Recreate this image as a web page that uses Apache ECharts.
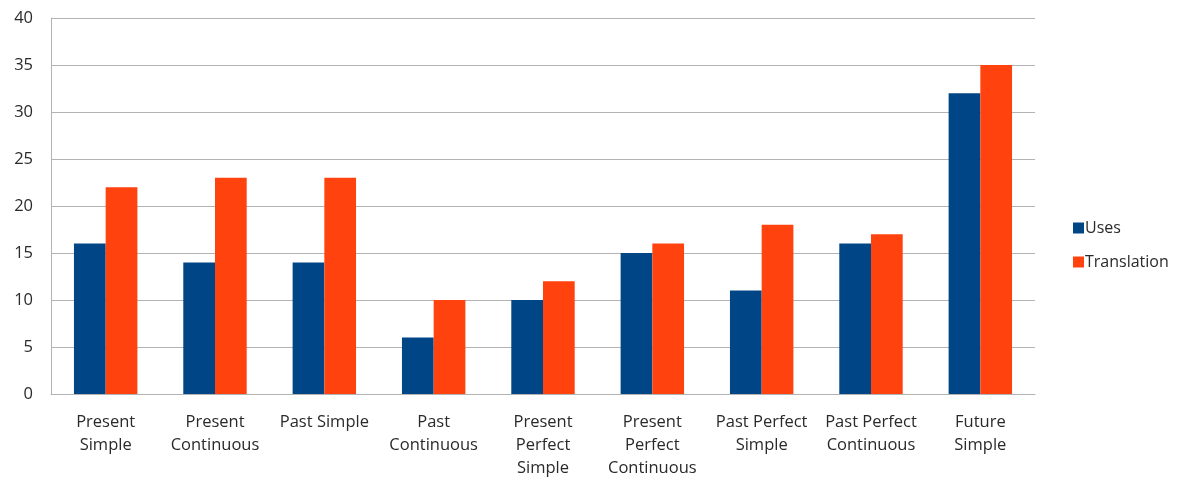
<!DOCTYPE html>
<html>
<head>
<meta charset="utf-8">
<script src="https://cdn.jsdelivr.net/npm/echarts@6/dist/echarts.min.js"></script>
<style>
  html, body { margin: 0; padding: 0; background: #fff; }
  #chart { width: 1177px; height: 477px; }
</style>
</head>
<body>
<div id="chart"></div>
<script>
// Tense categories (line breaks as shown under the axis)
const categories = [
  'Present\nSimple',
  'Present\nContinuous',
  'Past Simple',
  'Past\nContinuous',
  'Present\nPerfect\nSimple',
  'Present\nPerfect\nContinuous',
  'Past Perfect\nSimple',
  'Past Perfect\nContinuous',
  'Future\nSimple'
];
const usesValues = [16, 14, 14, 6, 10, 15, 11, 16, 32];
const translationValues = [22, 23, 23, 10, 12, 16, 18, 17, 35];
const seriesNames = ['Uses', 'Translation'];

const font = 'Open Sans, Lato, sans-serif';
const textColor = '#2a2a2a';
const chart = echarts.init(document.getElementById('chart'), null, { renderer: 'canvas' });

chart.setOption({
  animation: false,
  backgroundColor: '#ffffff',
  textStyle: { fontFamily: font },
  grid: {
    left: 51, right: 142, top: 18, bottom: 83,
    containLabel: false,
    outerBoundsMode: 'none'
  },
  legend: {
    orient: 'vertical',
    left: 1068,
    top: 215,
    itemWidth: 11,
    itemHeight: 11,
    itemGap: 18,
    icon: 'rect',
    textStyle: { fontFamily: font, fontSize: 16, color: textColor, padding: [0, 0, 0, -4] },
    data: seriesNames
  },
  xAxis: {
    type: 'category',
    data: categories,
    axisLine: { lineStyle: { color: '#b3b3b3', width: 1 } },
    axisTick: { show: false },
    axisLabel: {
      interval: 0,
      color: textColor,
      fontFamily: font,
      fontSize: 16.5,
      lineHeight: 23,
      margin: 17
    }
  },
  yAxis: {
    type: 'value',
    min: 0,
    max: 40,
    interval: 5,
    axisLine: { show: true, lineStyle: { color: '#b3b3b3', width: 1 } },
    axisTick: { show: false },
    splitLine: { lineStyle: { color: '#b3b3b3', width: 1 } },
    axisLabel: { color: textColor, fontFamily: font, fontSize: 16.5, margin: 18 }
  },
  series: [
    {
      name: seriesNames[0],
      type: 'bar',
      data: usesValues,
      itemStyle: { color: '#004586' },
      barGap: '0%',
      barCategoryGap: '42%'
    },
    {
      name: seriesNames[1],
      type: 'bar',
      data: translationValues,
      itemStyle: { color: '#ff420e' },
      barGap: '0%',
      barCategoryGap: '42%'
    }
  ]
});
</script>
</body>
</html>
